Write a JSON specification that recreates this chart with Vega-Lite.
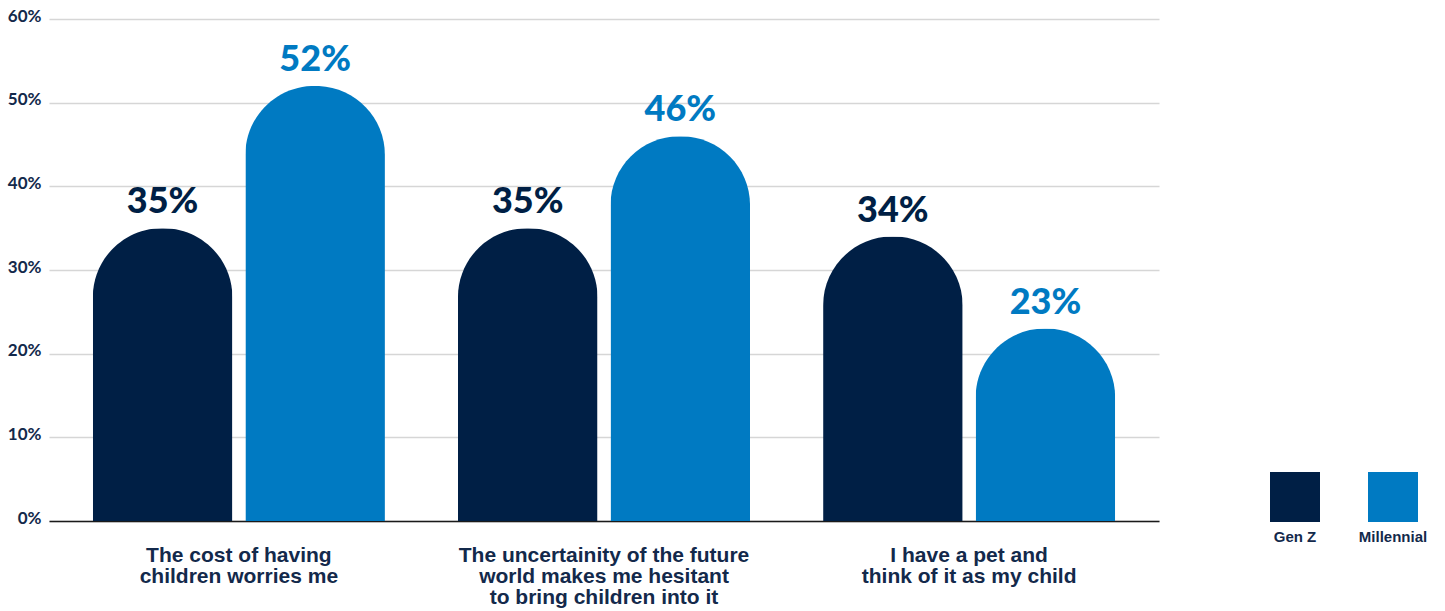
{
  "$schema": "https://vega.github.io/schema/vega-lite/v6.json",
  "width": 1110,
  "height": 502,
  "autosize": {"type": "none"},
  "padding": {"left": 49, "top": 19, "right": 286, "bottom": 90},
  "background": "white",
  "config": {"view": {"stroke": null}},
  "data": {
    "values": [
      {"statement": "The cost of having|children worries me", "generation": "Gen Z", "share": 0.35},
      {"statement": "The cost of having|children worries me", "generation": "Millennial", "share": 0.52},
      {"statement": "The uncertainity of the future|world makes me hesitant|to bring children into it", "generation": "Gen Z", "share": 0.35},
      {"statement": "The uncertainity of the future|world makes me hesitant|to bring children into it", "generation": "Millennial", "share": 0.46},
      {"statement": "I have a pet and|think of it as my child", "generation": "Gen Z", "share": 0.34},
      {"statement": "I have a pet and|think of it as my child", "generation": "Millennial", "share": 0.23}
    ]
  },
  "encoding": {
    "x": {
      "field": "statement",
      "type": "nominal",
      "sort": null,
      "scale": {"paddingInner": 0.2, "paddingOuter": 0.12},
      "axis": {
        "title": null,
        "labelExpr": "split(datum.label, '|')",
        "labelAngle": 0,
        "labelFont": "Liberation Sans",
        "labelFontWeight": "bold",
        "labelFontSize": 21,
        "labelLineHeight": 21,
        "labelColor": "#13294B",
        "labelPadding": 23,
        "labelLimit": 500,
        "ticks": false,
        "domainColor": "#1a1a1a",
        "domainWidth": 1.5,
        "grid": false
      }
    },
    "xOffset": {
      "field": "generation",
      "type": "nominal",
      "sort": ["Gen Z", "Millennial"],
      "scale": {"paddingInner": 0.085, "paddingOuter": 0}
    },
    "y": {
      "field": "share",
      "type": "quantitative",
      "scale": {"domain": [0, 0.6]},
      "axis": {
        "title": null,
        "values": [0, 0.1, 0.2, 0.3, 0.4, 0.5, 0.6],
        "format": ".0%",
        "domain": false,
        "ticks": false,
        "labelFont": "Lato",
        "labelFontWeight": "bold",
        "labelFontSize": 17,
        "labelColor": "#13294B",
        "labelPadding": 8,
        "labelOffset": -3,
        "gridColor": "#d6d6d6",
        "gridWidth": 1.5
      }
    },
    "color": {
      "field": "generation",
      "type": "nominal",
      "scale": {"domain": ["Gen Z", "Millennial"], "range": ["#001F45", "#007AC2"]},
      "legend": {
        "title": null,
        "orient": "none",
        "legendX": 1221,
        "legendY": 453,
        "direction": "horizontal",
        "symbolType": "square",
        "symbolSize": 2500,
        "symbolStrokeWidth": 0,
        "symbolOpacity": 1,
        "labelFont": "Liberation Sans",
        "labelFontWeight": "bold",
        "labelFontSize": 15,
        "labelColor": "#13294B",
        "labelOffset": 0,
        "labelAlign": "center",
        "columnPadding": 38,
        "encode": {
          "labels": {"update": {"dx": {"value": -25}, "dy": {"value": 40}}}
        }
      }
    }
  },
  "layer": [
    {"mark": {"type": "bar", "cornerRadiusTopLeft": 69, "cornerRadiusTopRight": 69}},
    {
      "mark": {"type": "text", "font": "Lato", "fontWeight": 900, "fontSize": 36, "baseline": "alphabetic", "dy": -15},
      "encoding": {"text": {"field": "share", "type": "quantitative", "format": ".0%"}}
    }
  ]
}
